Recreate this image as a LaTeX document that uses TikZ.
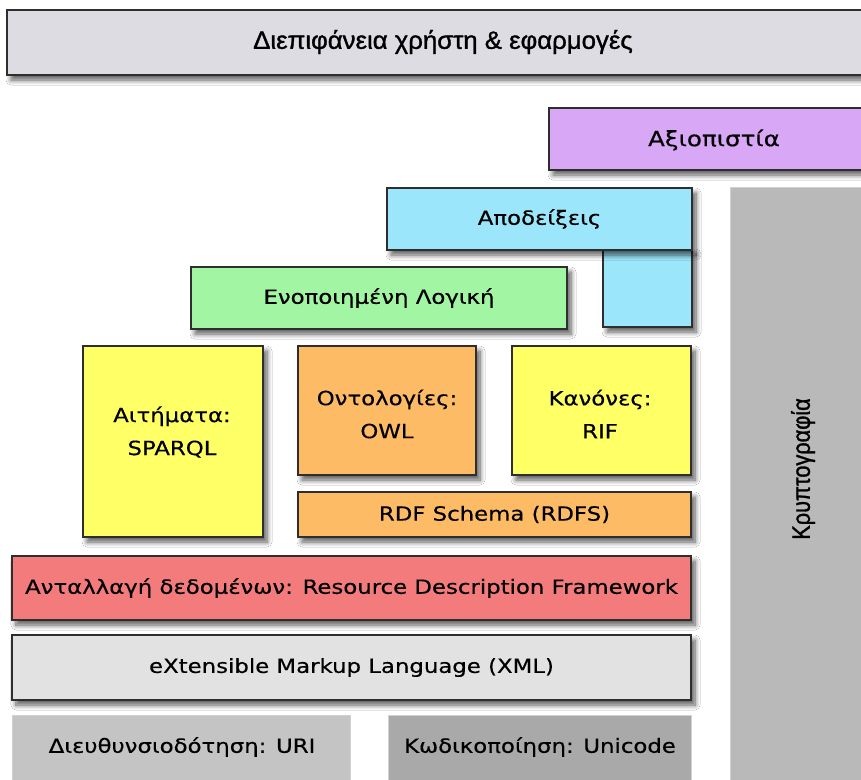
\documentclass[tikz,border=0pt]{standalone}
\usepackage{fontspec}
\setmainfont{DejaVu Sans}[FakeStretch=1.17, FakeBold=0.4]
\newfontfamily\topfont{Liberation Sans}[FakeStretch=1.03, FakeBold=1.2]
\newfontfamily\cryfont{Liberation Sans}[FakeStretch=0.87, FakeBold=1.2]
\usetikzlibrary{shadows.blur}
\definecolor{cTop}{HTML}{DCDCE2}
\definecolor{cTrust}{HTML}{D8A8F6}
\definecolor{cProof}{HTML}{9BE6FA}
\definecolor{cLogic}{HTML}{A2F5A2}
\definecolor{cYel}{HTML}{FFFF66}
\definecolor{cOra}{HTML}{FEBB66}
\definecolor{cRdf}{HTML}{F47B7B}
\definecolor{cXml}{HTML}{E2E2E2}
\definecolor{cUri}{HTML}{C4C4C4}
\definecolor{cUni}{HTML}{A9A9A9}
\definecolor{cCry}{HTML}{B9B9B9}
\definecolor{cEdge}{HTML}{2E2E2E}
\tikzset{
  layer/.style={draw=cEdge, line width=1.6pt, inner sep=0pt, outer sep=0pt,
    blur shadow={shadow xshift=4pt, shadow yshift=-5pt, shadow blur steps=8,
      shadow blur radius=5pt, shadow opacity=65},
    align=center, font=\fontsize{19.5}{33}\selectfont},
  flat/.style={draw=white!82!black, line width=1pt, inner sep=0pt, outer sep=0pt},
  label/.style={font=\fontsize{19.5}{33}\selectfont, align=center, inner sep=0pt},
}
\begin{document}
\begin{tikzpicture}[x=1pt,y=-1pt]
\useasboundingbox[fill=white] (0,0) rectangle (861,779);
% top
\node[layer, fill=cTop, minimum width=880, minimum height=65, anchor=north west] (ui) at (7,10) {};
\node[label, font=\topfont\fontsize{25}{28}\selectfont] (uitext) at (443,42) {Διεπιφάνεια χρήστη \& εφαρμογές};
\node[layer, fill=cTrust, minimum width=330, minimum height=62, anchor=north west] (trust) at (549,108) {};
\node[label, font=\fontsize{21}{24}\selectfont] (trusttext) at (714,140) {Αξιοπιστία};
% proofs L shape
\node[layer, fill=cProof, minimum width=89, minimum height=78, anchor=north west] (proofleg) at (603,249) {};
\node[layer, fill=cProof, minimum width=305, minimum height=62, anchor=north west] (proof) at (387,188) {Αποδείξεις};
\node[layer, fill=cLogic, minimum width=376, minimum height=62, anchor=north west] (logic) at (191,267) {Ενοποιημένη Λογική};
% crypto
\node[flat, fill=cCry, minimum width=140, minimum height=600, anchor=north west] (crypto) at (730,187) {};
\node[rotate=90, inner sep=0pt, font=\cryfont\fontsize{25}{28}\selectfont] (cryptotext) at (803,469) {Κρυπτογραφία};
% middle
\node[layer, fill=cYel, minimum width=180, minimum height=191, anchor=north west] (query) at (83,346) {};
\node[label] (querytext) at (172,432) {Αιτήματα:\\SPARQL};
\node[layer, fill=cOra, minimum width=178, minimum height=129, anchor=north west] (onto) at (298,346) {};
\node[label] (ontotext) at (387,414) {Οντολογίες:\\OWL};
\node[layer, fill=cYel, minimum width=179, minimum height=129, anchor=north west] (rules) at (512,346) {};
\node[label] (rulestext) at (600,414) {Κανόνες:\\RIF};
\node[layer, fill=cOra, minimum width=393, minimum height=45, anchor=north west] (rdfs) at (298,492) {RDF Schema (RDFS)};
\node[layer, fill=cRdf, minimum width=679, minimum height=64, anchor=north west] (rdf) at (12,556) {Ανταλλαγή δεδομένων: Resource Description Framework};
\node[layer, fill=cXml, minimum width=679, minimum height=65, anchor=north west] (xml) at (12,635) {eXtensible Markup Language (XML)};
\node[flat, fill=cUri, minimum width=338, minimum height=70, anchor=north west] (uri) at (12,715) {};
\node[label] (uritext) at (182,747) {Διευθυνσιοδότηση: URI};
\node[flat, fill=cUni, minimum width=303, minimum height=70, anchor=north west] (uni) at (388,715) {};
\node[label] (unitext) at (540,747) {Κωδικοποίηση: Unicode};
\end{tikzpicture}
\end{document}
